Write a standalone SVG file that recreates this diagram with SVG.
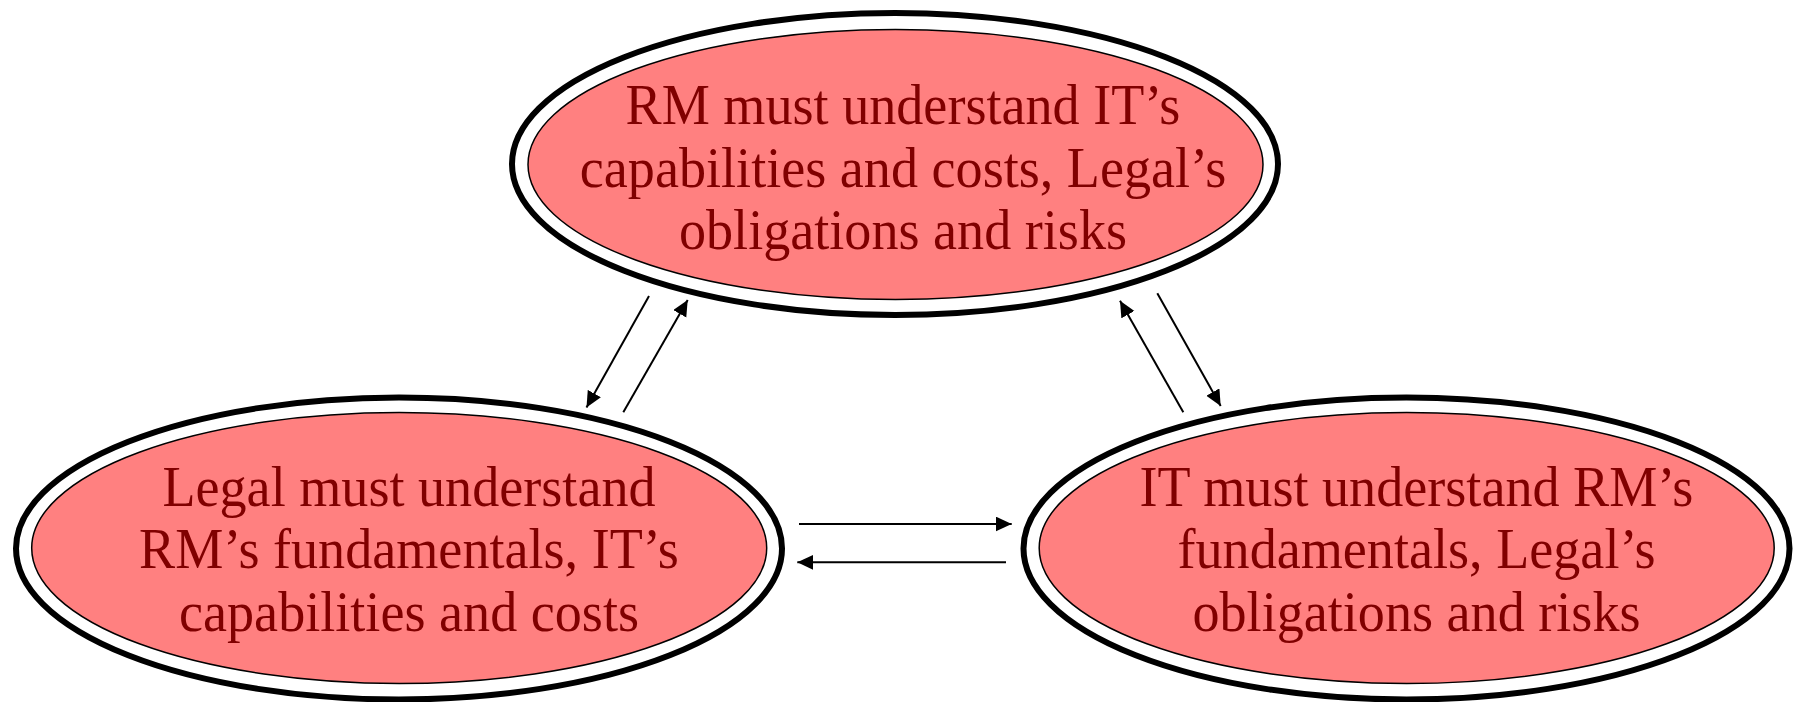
<svg xmlns="http://www.w3.org/2000/svg" width="1799" height="702" viewBox="0 0 1799 702">
  <style>
    .ring { fill: none; stroke: #000; stroke-width: 6; }
    .core { fill: #FF8080; stroke: #000; stroke-width: 1.5; }
    .label { font-family: "Liberation Serif", "Times New Roman", serif; font-size: 57px; fill: #800000; text-anchor: middle; }
    .link { stroke: #000; stroke-width: 2; fill: none; marker-end: url(#head); }
  </style>
  <defs>
    <marker id="head" markerUnits="userSpaceOnUse" markerWidth="17" markerHeight="16" refX="16" refY="7.5" orient="auto">
      <path d="M0,0 L16,7.5 L0,15 Z" fill="#000"/>
    </marker>
  </defs>
  <rect width="1799" height="702" fill="#fff"/>

  <!-- RM: text is slightly condensed horizontally -->
  <g id="node-rm">
    <ellipse class="ring" cx="895" cy="164" rx="383" ry="151"/>
    <ellipse class="core" cx="895.5" cy="164.5" rx="367.5" ry="135"/>
    <text class="label" transform="translate(903,124) scale(0.95,1)">RM must understand IT’s</text>
    <text class="label" transform="translate(903,187) scale(0.95,1)">capabilities and costs, Legal’s</text>
    <text class="label" transform="translate(903,249) scale(0.95,1)">obligations and risks</text>
  </g>

  <!-- Legal -->
  <g id="node-legal">
    <ellipse class="ring" cx="399" cy="548.5" rx="383" ry="151"/>
    <ellipse class="core" cx="399.2" cy="548" rx="367.5" ry="135.5"/>
    <text class="label" transform="translate(409,506) scale(0.95,1)">Legal must understand</text>
    <text class="label" transform="translate(409,568) scale(0.95,1)">RM’s fundamentals, IT’s</text>
    <text class="label" transform="translate(409,631) scale(0.95,1)">capabilities and costs</text>
  </g>

  <!-- IT -->
  <g id="node-it">
    <ellipse class="ring" cx="1406.5" cy="548.5" rx="383" ry="151"/>
    <ellipse class="core" cx="1406.7" cy="548" rx="367.5" ry="135.5"/>
    <text class="label" transform="translate(1416.5,506) scale(0.95,1)">IT must understand RM’s</text>
    <text class="label" transform="translate(1416.5,568) scale(0.95,1)">fundamentals, Legal’s</text>
    <text class="label" transform="translate(1416.5,631) scale(0.95,1)">obligations and risks</text>
  </g>

  <!-- connectors -->
  <g id="connectors">
    <line class="link" x1="649" y1="296" x2="586.5" y2="407.5"/>
    <line class="link" x1="623.3" y1="412.3" x2="687.7" y2="300"/>
    <line class="link" x1="1183.3" y1="412.3" x2="1120" y2="300.7"/>
    <line class="link" x1="1157.3" y1="293.3" x2="1220.7" y2="406"/>
    <line class="link" x1="799" y1="524" x2="1011.7" y2="524"/>
    <line class="link" x1="1006" y1="562.3" x2="797.3" y2="562.3"/>
  </g>
</svg>
